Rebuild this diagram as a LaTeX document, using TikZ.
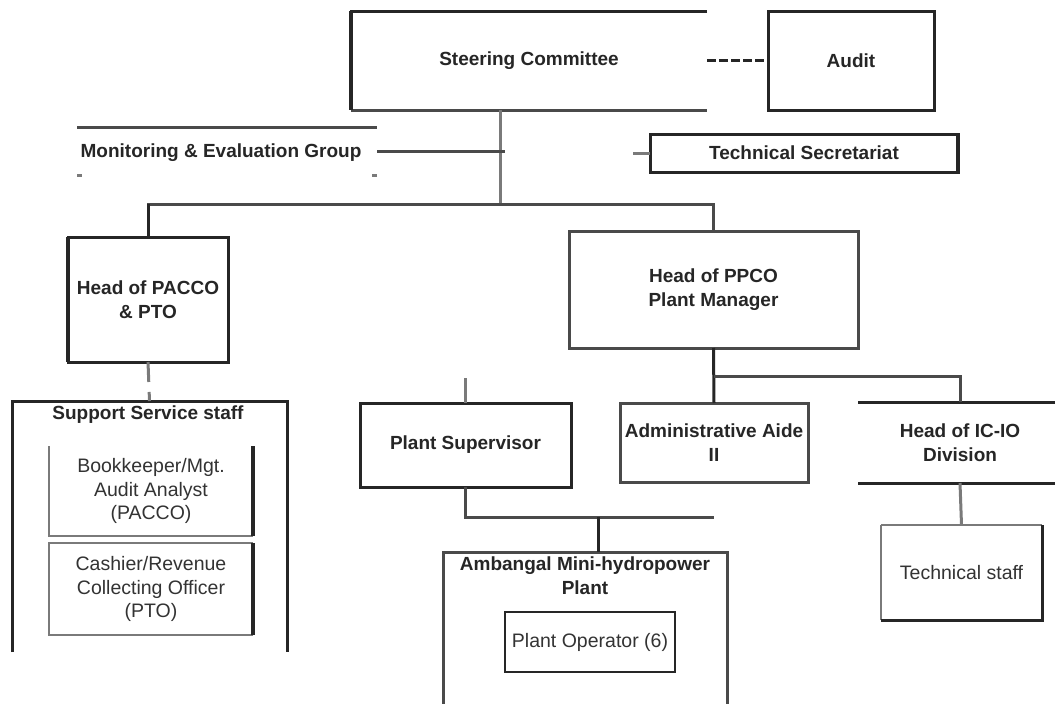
\documentclass[tikz,border=0pt]{standalone}
\usepackage{fontspec}
\setmainfont{Liberation Sans}
\usetikzlibrary{calc}
\definecolor{dk}{HTML}{262626}
\definecolor{gr}{HTML}{7A7A7A}
\definecolor{md}{HTML}{4A4A4A}
\definecolor{tx}{HTML}{333333}
\begin{document}
\begin{tikzpicture}[x=1pt,y=-1pt,
  frame/.style={rectangle, inner sep=0pt, outer sep=0pt},
  bt/.style={font=\fontsize{19}{24}\selectfont\bfseries, text=dk, align=center},
  rt/.style={font=\fontsize{19.5}{23.5}\selectfont, text=tx, align=center},
  dkline/.style={draw=dk, line width=3pt},
  mdline/.style={draw=md, line width=3pt},
  grline/.style={draw=gr, line width=3pt},
  thinline/.style={draw=gr, line width=1.5pt},
  heavy/.style={draw=dk, line width=4.5pt}
]
\useasboundingbox[fill=white] (0,0) rectangle (1055,704);

% ---------- nodes ----------
\node[frame, minimum width=356pt, minimum height=99pt, bt] (steer) at (529,60.5) {Steering Committee};
\node[frame, minimum width=166pt, minimum height=99pt, bt] (audit) at (851,60.5) {Audit};
\node[frame, minimum width=300pt, minimum height=48pt] (me) at (227,151) {};
\node[bt] (metxt) at (221,153) {Monitoring \& Evaluation Group};
\node[frame, minimum width=308pt, minimum height=38pt, bt] (tech) at (804,153) {Technical Secretariat};
\node[frame, minimum width=160pt, minimum height=125pt, bt] (pacco) at (148,299.5) {Head of PACCO\\\& PTO};
\node[frame, minimum width=289pt, minimum height=117pt, bt] (ppco) at (713.5,289.5) {Head of PPCO\\Plant Manager};
\node[frame, minimum width=275pt, minimum height=251pt] (support) at (149.5,526.5) {};
\node[bt] (supporttxt) at (148,415) {Support Service staff};
\node[frame, minimum width=204pt, minimum height=90pt, rt] (book) at (151,491) {Bookkeeper/Mgt.\\Audit Analyst\\(PACCO)};
\node[frame, minimum width=204pt, minimum height=92pt, rt] (cash) at (151,589) {Cashier/Revenue\\Collecting Officer\\(PTO)};
\node[frame, minimum width=211pt, minimum height=84pt, bt] (sup) at (465.5,445) {Plant Supervisor};
\node[frame, minimum width=188pt, minimum height=79pt, bt] (admin) at (714,442.5) {Administrative Aide\\II};
\node[frame, minimum width=204pt, minimum height=81pt, bt] (icio) at (960,442.5) {Head of IC-IO\\Division};
\node[frame, minimum width=161pt, minimum height=95pt, rt] (techstaff) at (961.5,572.5) {Technical staff};
\node[frame, minimum width=284pt, minimum height=152pt] (amb) at (585,628) {};
\node[bt] (ambtxt) at (585,575.5) {Ambangal Mini-hydropower\\Plant};
\node[frame, minimum width=170pt, minimum height=60pt, rt] (op) at (590,642) {Plant Operator (6)};

% ---------- outlines ----------
\draw[dkline] (steer.north east) -- (steer.north west) -- (steer.south west);
\draw[mdline] (steer.south west) -- (steer.south east);
\draw[heavy] (steer.north west) -- (steer.south west);
\draw[dkline] (audit.north west) rectangle (audit.south east);
\draw[mdline] (me.north west) -- (me.north east);
\draw[grline] (me.south west) -- ++(5,0);
\draw[grline] (me.south east) -- ++(-5,0);
\draw[dkline] (tech.north west) rectangle (tech.south east);
\draw[heavy] (tech.north east) -- (tech.south east);
\draw[dkline] (pacco.north west) rectangle (pacco.south east);
\draw[heavy] (pacco.north west) -- (pacco.south west);
\draw[mdline] (ppco.north west) rectangle (ppco.south east);
\draw[dkline] (support.south west) -- (support.north west) -- (support.north east) -- (support.south east);
\draw[thinline] (book.north west) -- (book.south west) -- (book.south east);
\draw[heavy] (book.north east) -- (book.south east);
\draw[thinline] (cash.south east) -- (cash.south west) -- (cash.north west) -- (cash.north east);
\draw[heavy] (cash.north east) -- (cash.south east);
\draw[dkline] (sup.north west) rectangle (sup.south east);
\draw[mdline] (admin.north west) rectangle (admin.south east);
\draw[dkline] (icio.north west) -- (icio.north east);
\draw[dkline] (icio.south west) -- (icio.south east);
\draw[thinline] (techstaff.north west) -- (techstaff.north east);
\draw[thinline] (techstaff.north west) -- (techstaff.south west);
\draw[dkline] (techstaff.north east) -- (techstaff.south east) -- (techstaff.south west);
\draw[mdline] (amb.south west) -- (amb.north west) -- (amb.north east) -- (amb.south east);
\draw[draw=dk, line width=2pt] (op.north west) rectangle (op.south east);

% ---------- connectors ----------
\coordinate (bus) at (500,204);
\coordinate (branch) at (713.5,376);
\coordinate (supend) at (713.5,517);
\coordinate (ambtap) at (598,517);
\draw[dkline, dash pattern=on 9pt off 3pt] (steer.east) -- (audit.west);
\draw[grline] (steer.south -| bus) -- (bus);
\draw[mdline] (me.east) -- ($(me.east -| bus)+(5,0)$);
\draw[grline] (tech.west) -- ++(-17,0);
\draw[mdline] (pacco.north) -- ++(0,-33) -| (ppco.north);
\draw[dkline] (pacco.north) -- ++(0,-33);
\draw[grline, dash pattern=on 20pt off 10pt] (pacco.south) -- (support.north);
\draw[dkline] (ppco.south) -- (admin.north);
\draw[mdline] (branch) -| (icio.north);
\draw[grline] (icio.south) -- (techstaff.north);
\draw[grline] (sup.north) -- ++(0,-25);
\draw[mdline] (sup.south) |- (supend);
\draw[dkline] (ambtap) -- (ambtap |- amb.north);
\end{tikzpicture}
\end{document}
